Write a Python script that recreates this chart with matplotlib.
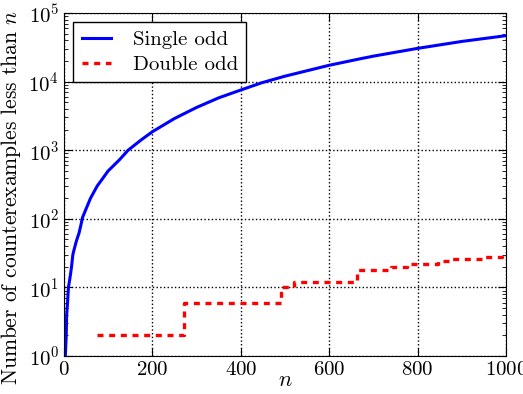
import matplotlib
matplotlib.use("Agg")
import matplotlib.pyplot as plt

# Counts of counterexamples below n
single_n = [3, 5, 6, 8, 10, 12, 15, 17, 20, 23, 27, 30, 34, 38, 42, 50, 60, 75,
            100, 125, 145, 175, 200, 250, 300, 350, 400, 447, 500, 600, 670, 700,
            800, 900, 1000]
single_count = [1, 2, 4, 6, 10, 12, 16, 20, 30, 36, 45, 52, 62, 80, 105, 140, 200, 300,
                500, 720, 1000, 1420, 1860, 2900, 4200, 5800, 7540, 9600, 12000, 17300,
                21500, 23500, 30500, 38500, 46700]

double_n = [75, 272, 492, 520, 662, 741, 775, 846, 873, 945, 990, 1000]
double_count = [2, 6, 10, 12, 18, 20, 22, 24, 26, 28, 30, 30]

plt.rcParams['font.family'] = 'serif'
plt.rcParams['font.serif'] = ['cmr10']
plt.rcParams['mathtext.fontset'] = 'cm'
plt.rcParams['axes.unicode_minus'] = False
plt.rcParams['axes.formatter.use_mathtext'] = True

fig = plt.figure(figsize=(5.23, 3.94), dpi=100)
ax = fig.add_axes([0.1224, 0.0964, 0.845, 0.8706])

ax.plot(single_n, single_count, color='blue', lw=2.2, label='Single odd')
ax.step(double_n, double_count, where='post', color='red', lw=2.4,
        linestyle=(0, (1.8, 1.7)), label='Double odd')

ax.set_yscale('log')
ax.set_xlim(0, 1000)
ax.set_ylim(1, 1e5)
ax.set_xlabel('$n$', fontsize=16, labelpad=-6)
ax.set_ylabel('Number of counterexamples less than $n$', fontsize=15.5)
ax.yaxis.set_label_coords(-0.093, 0.462)
ax.grid(True, which='major', color='black', linestyle=':', linewidth=1)
ax.tick_params(which='both', direction='in', top=True, right=True, labelsize=15)
ax.tick_params(which='major', length=6)
ax.tick_params(which='minor', length=3)

leg = ax.legend(loc='upper left', fontsize=15, fancybox=False, framealpha=1,
                edgecolor='black', handlelength=1.4, handletextpad=1.05,
                labelspacing=0.3, borderaxespad=0.45, borderpad=0.4)
leg.get_frame().set_linewidth(1)

fig.savefig('out.png', dpi=100)
